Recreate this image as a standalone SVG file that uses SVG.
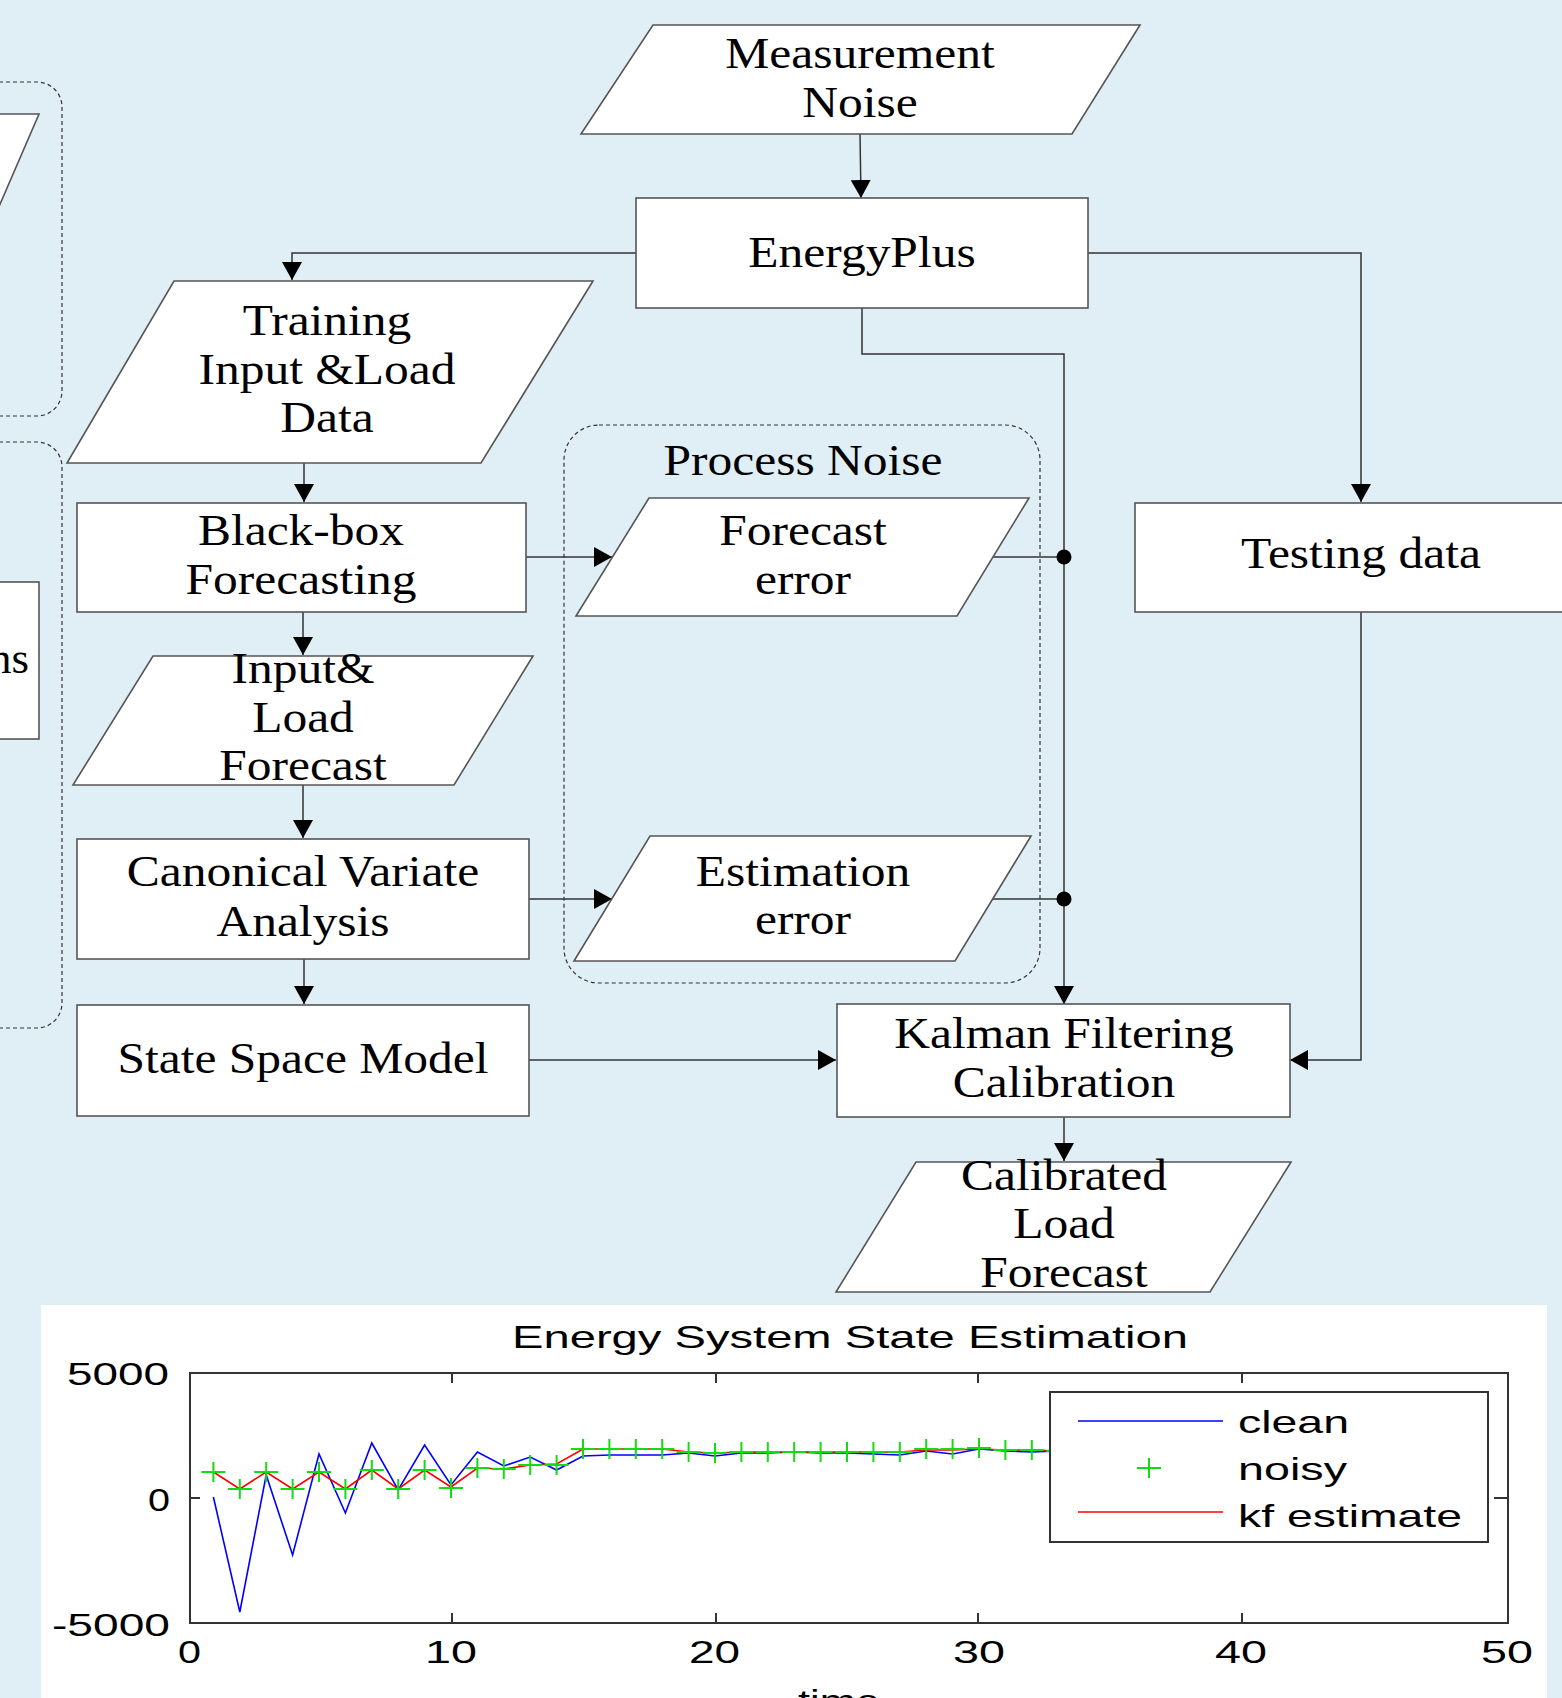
<svg xmlns="http://www.w3.org/2000/svg" xmlns:xlink="http://www.w3.org/1999/xlink" width="1562" height="1698" viewBox="0 0 1562 1698">
<style>
.bg{fill:#e0eef6}
.node{fill:#ffffff;stroke:#555555;stroke-width:1.6}
.grp{fill:none;stroke:#333333;stroke-width:1.2;stroke-dasharray:4 3}
.t{font-family:"Liberation Serif","Times New Roman",serif;font-size:45px;fill:#000;text-anchor:middle}
.c{fill:none;stroke:#333333;stroke-width:1.5}
.ax{font-family:"Liberation Sans",Arial,sans-serif;font-size:32px;fill:#000}
.frame{fill:none;stroke:#333;stroke-width:2}
</style>
<defs>
<marker id="arr" markerUnits="userSpaceOnUse" viewBox="0 0 18 20" refX="18" refY="10" markerWidth="18" markerHeight="20" orient="auto">
<polygon points="0,0 18,10 0,20" fill="#000"/>
</marker>
<path id="plus" d="M-12,0H12M0,-10V10" stroke="#11dd11" stroke-width="2" fill="none"/>
</defs>
<rect class="bg" x="0" y="0" width="1562" height="1698"/>

<g id="left-partial">
<rect class="grp" x="-40" y="82" width="102" height="334" rx="25"/>
<rect class="grp" x="-40" y="442" width="102" height="586" rx="25"/>
<polygon class="node" points="-200,114 39,114 -50,320 -200,320"/>
<rect class="node" x="-100" y="582" width="139" height="157"/>
<text class="t" x="29" y="673" style="text-anchor:end">ns</text>
</g>

<g id="process-noise-group">
<rect class="grp" x="564" y="425" width="476" height="558" rx="35"/>
<g transform="translate(803 0) scale(1.1 1)"><text class="t" x="0" y="475">Process Noise</text></g>
</g>

<g id="connectors">
<path class="c" d="M860,134 L861,198" marker-end="url(#arr)"/>
<path class="c" d="M636,253 H292 V280" marker-end="url(#arr)"/>
<path class="c" d="M1088,253 H1361 V502" marker-end="url(#arr)"/>
<path class="c" d="M862,308 V354 H1064 V1004" marker-end="url(#arr)"/>
<path class="c" d="M304,463 V502" marker-end="url(#arr)"/>
<path class="c" d="M303,612 V655" marker-end="url(#arr)"/>
<path class="c" d="M303,785 V838" marker-end="url(#arr)"/>
<path class="c" d="M304,959 V1004" marker-end="url(#arr)"/>
<path class="c" d="M526,557 H612" marker-end="url(#arr)"/>
<path class="c" d="M529,899 H612" marker-end="url(#arr)"/>
<path class="c" d="M993,557 H1064"/>
<path class="c" d="M993,899 H1064"/>
<circle cx="1064" cy="557" r="7.5" fill="#000"/>
<circle cx="1064" cy="899" r="7.5" fill="#000"/>
<path class="c" d="M529,1060 H836" marker-end="url(#arr)"/>
<path class="c" d="M1361,612 V1060 H1290" marker-end="url(#arr)"/>
<path class="c" d="M1064,1117 V1161" marker-end="url(#arr)"/>
</g>

<g id="measurement-noise">
<polygon class="node" points="653,25 1140,25 1072,134 581,134"/>
<g transform="translate(860 0) scale(1.1 1)"><text class="t" x="0" y="68">Measurement</text><text class="t" x="0" y="117">Noise</text></g>
</g>
<g id="energyplus">
<rect class="node" x="636" y="198" width="452" height="110"/>
<g transform="translate(862 0) scale(1.1 1)"><text class="t" x="0" y="267">EnergyPlus</text></g>
</g>
<g id="training-data">
<polygon class="node" points="174,281 593,281 481,463 67,463"/>
<g transform="translate(327 0) scale(1.1 1)"><text class="t" x="0" y="335">Training</text><text class="t" x="0" y="384">Input &amp;Load</text><text class="t" x="0" y="432">Data</text></g>
</g>
<g id="blackbox">
<rect class="node" x="77" y="503" width="449" height="109"/>
<g transform="translate(301 0) scale(1.1 1)"><text class="t" x="0" y="545">Black-box</text><text class="t" x="0" y="594">Forecasting</text></g>
</g>
<g id="input-load-forecast">
<polygon class="node" points="153,656 533,656 454,785 73,785"/>
<g transform="translate(303 0) scale(1.1 1)"><text class="t" x="0" y="683">Input&amp;</text><text class="t" x="0" y="732">Load</text><text class="t" x="0" y="780">Forecast</text></g>
</g>
<g id="cva">
<rect class="node" x="77" y="839" width="452" height="120"/>
<g transform="translate(303 0) scale(1.1 1)"><text class="t" x="0" y="886">Canonical Variate</text><text class="t" x="0" y="936">Analysis</text></g>
</g>
<g id="state-space">
<rect class="node" x="77" y="1005" width="452" height="111"/>
<g transform="translate(303 0) scale(1.1 1)"><text class="t" x="0" y="1073">State Space Model</text></g>
</g>
<g id="forecast-error">
<polygon class="node" points="649,498 1029,498 957,616 576,616"/>
<g transform="translate(803 0) scale(1.1 1)"><text class="t" x="0" y="545">Forecast</text><text class="t" x="0" y="594">error</text></g>
</g>
<g id="estimation-error">
<polygon class="node" points="650,836 1031,836 955,961 574,961"/>
<g transform="translate(803 0) scale(1.1 1)"><text class="t" x="0" y="886">Estimation</text><text class="t" x="0" y="934">error</text></g>
</g>
<g id="testing-data">
<rect class="node" x="1135" y="503" width="460" height="109"/>
<g transform="translate(1361 0) scale(1.1 1)"><text class="t" x="0" y="568">Testing data</text></g>
</g>
<g id="kalman">
<rect class="node" x="837" y="1004" width="453" height="113"/>
<g transform="translate(1064 0) scale(1.1 1)"><text class="t" x="0" y="1048">Kalman Filtering</text><text class="t" x="0" y="1097">Calibration</text></g>
</g>
<g id="calibrated">
<polygon class="node" points="916,1162 1291,1162 1210,1292 836,1292"/>
<g transform="translate(1064 0) scale(1.1 1)"><text class="t" x="0" y="1190">Calibrated</text><text class="t" x="0" y="1238">Load</text><text class="t" x="0" y="1287">Forecast</text></g>
</g>

<g id="chart">
<rect x="41" y="1305" width="1506" height="400" fill="#ffffff"/>
<text class="ax" x="512" y="1348" textLength="676" lengthAdjust="spacingAndGlyphs">Energy System State Estimation</text>
<polyline fill="none" stroke="#0000ff" stroke-width="1.6" points="213.4,1497 239.8,1612 266.2,1475 292.6,1555 319,1454 345.4,1513 371.8,1443 398.2,1490 424.6,1445 451,1485 477.4,1452 503.8,1466 530.2,1457 556.6,1470 583,1456 609.4,1455 635.8,1455 662.2,1455 688.6,1453 715,1456 741.4,1453 767.8,1453 794.2,1452 820.6,1453 847,1453 873.4,1454 899.8,1455 926.2,1451 952.6,1454 979,1449 1005.4,1451 1031.8,1452 1058.2,1451 1084.6,1452 1111,1452 1137.4,1452"/>
<polyline fill="none" stroke="#ff0000" stroke-width="1.6" points="213.4,1472 239.8,1489 266.2,1472 292.6,1489 319,1472 345.4,1489 371.8,1470 398.2,1489 424.6,1470 451,1487 477.4,1468 503.8,1469 530.2,1465 556.6,1464 583,1449 609.4,1449 635.8,1449 662.2,1449 688.6,1452 715,1453 741.4,1452 767.8,1452 794.2,1452 820.6,1452 847,1452 873.4,1452 899.8,1452 926.2,1450 952.6,1450 979,1449 1005.4,1450 1031.8,1450 1058.2,1451 1084.6,1451 1111,1451"/>
<g id="noisy">
<use xlink:href="#plus" x="213.4" y="1472"/><use xlink:href="#plus" x="239.8" y="1489"/><use xlink:href="#plus" x="266.2" y="1472"/><use xlink:href="#plus" x="292.6" y="1489"/><use xlink:href="#plus" x="319" y="1472"/><use xlink:href="#plus" x="345.4" y="1489"/><use xlink:href="#plus" x="371.8" y="1470"/><use xlink:href="#plus" x="398.2" y="1489"/><use xlink:href="#plus" x="424.6" y="1470"/><use xlink:href="#plus" x="451" y="1488"/><use xlink:href="#plus" x="477.4" y="1468"/><use xlink:href="#plus" x="503.8" y="1469"/><use xlink:href="#plus" x="530.2" y="1465"/><use xlink:href="#plus" x="556.6" y="1465"/><use xlink:href="#plus" x="583" y="1449"/><use xlink:href="#plus" x="609.4" y="1449"/><use xlink:href="#plus" x="635.8" y="1449"/><use xlink:href="#plus" x="662.2" y="1449"/><use xlink:href="#plus" x="688.6" y="1452"/><use xlink:href="#plus" x="715" y="1453"/><use xlink:href="#plus" x="741.4" y="1452"/><use xlink:href="#plus" x="767.8" y="1452"/><use xlink:href="#plus" x="794.2" y="1452"/><use xlink:href="#plus" x="820.6" y="1452"/><use xlink:href="#plus" x="847" y="1452"/><use xlink:href="#plus" x="873.4" y="1452"/><use xlink:href="#plus" x="899.8" y="1452"/><use xlink:href="#plus" x="926.2" y="1449"/><use xlink:href="#plus" x="952.6" y="1449"/><use xlink:href="#plus" x="979" y="1448"/><use xlink:href="#plus" x="1005.4" y="1450"/><use xlink:href="#plus" x="1031.8" y="1450"/><use xlink:href="#plus" x="1058.2" y="1451"/>
</g>
<rect class="frame" x="190" y="1373" width="1318" height="250"/>
<path fill="none" stroke="#333" stroke-width="2" d="M452,1373v10M716,1373v10M978,1373v10M1242,1373v10M452,1623v-10M716,1623v-10M978,1623v-10M1242,1623v-10M190,1498h10M1508,1498h-14"/>
<text class="ax" x="67" y="1385" textLength="102" lengthAdjust="spacingAndGlyphs">5000</text>
<text class="ax" x="148" y="1511" textLength="22" lengthAdjust="spacingAndGlyphs">0</text>
<text class="ax" x="52" y="1636" textLength="118" lengthAdjust="spacingAndGlyphs">-5000</text>
<text class="ax" x="178" y="1663" textLength="23" lengthAdjust="spacingAndGlyphs">0</text>
<text class="ax" x="425" y="1663" textLength="52" lengthAdjust="spacingAndGlyphs">10</text>
<text class="ax" x="689" y="1663" textLength="51" lengthAdjust="spacingAndGlyphs">20</text>
<text class="ax" x="953" y="1663" textLength="52" lengthAdjust="spacingAndGlyphs">30</text>
<text class="ax" x="1215" y="1663" textLength="52" lengthAdjust="spacingAndGlyphs">40</text>
<text class="ax" x="1481" y="1663" textLength="52" lengthAdjust="spacingAndGlyphs">50</text>
<text class="ax" x="798" y="1712" textLength="82" lengthAdjust="spacingAndGlyphs">time</text>
<g id="legend">
<rect x="1050" y="1392" width="438" height="150" fill="#fff" stroke="#333" stroke-width="2"/>
<path d="M1078,1421H1223" stroke="#0000ff" stroke-width="1.6"/>
<use xlink:href="#plus" x="1149" y="1468"/>
<path d="M1078,1512H1223" stroke="#ff0000" stroke-width="1.6"/>
<text class="ax" x="1238" y="1433" textLength="111" lengthAdjust="spacingAndGlyphs">clean</text>
<text class="ax" x="1238" y="1480" textLength="109" lengthAdjust="spacingAndGlyphs">noisy</text>
<text class="ax" x="1238" y="1527" textLength="224" lengthAdjust="spacingAndGlyphs">kf estimate</text>
</g>
</g>
</svg>
